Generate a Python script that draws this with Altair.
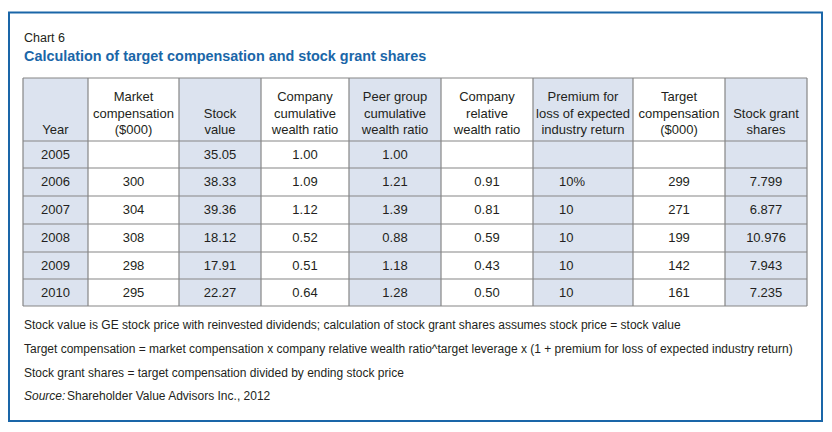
import altair as alt
import pandas as pd

# ---------------- data ----------------
chart_label = "Chart 6"
title_text = "Calculation of target compensation and stock grant shares"

headers = [
    ["Year"],
    ["Market", "compensation", "($000)"],
    ["Stock", "value"],
    ["Company", "cumulative", "wealth ratio"],
    ["Peer group", "cumulative", "wealth ratio"],
    ["Company", "relative", "wealth ratio"],
    ["Premium for", "loss of expected", "industry return"],
    ["Target", "compensation", "($000)"],
    ["Stock grant", "shares"],
]

years = ["2005", "2006", "2007", "2008", "2009", "2010"]
market_comp = ["", "300", "304", "308", "298", "295"]
stock_value = ["35.05", "38.33", "39.36", "18.12", "17.91", "22.27"]
company_cum = ["1.00", "1.09", "1.12", "0.52", "0.51", "0.64"]
peer_cum = ["1.00", "1.21", "1.39", "0.88", "1.18", "1.28"]
company_rel = ["", "0.91", "0.81", "0.59", "0.43", "0.50"]
premium = ["", "10%", "10", "10", "10", "10"]
target_comp = ["", "299", "271", "199", "142", "161"]
grant_shares = ["", "7.799", "6.877", "10.976", "7.943", "7.235"]

notes = [
    "Stock value is GE stock price with reinvested dividends; calculation of stock grant shares assumes stock price = stock value",
    "Target compensation = market compensation x company relative wealth ratio^target leverage x (1 + premium for loss of expected industry return)",
    "Stock grant shares = target compensation divided by ending stock price",
]
source_label = "Source:"
source_text = "Shareholder Value Advisors Inc., 2012"

# ---------------- layout (page pixel space) ----------------
col_edges = [23, 88, 179, 261, 349, 441, 533, 633, 725, 807]
row_edges = [78, 141, 168, 196, 224, 252, 279, 306]
header_line_y = [97, 113.5, 130]
box = dict(x=9, y=12.5, x2=822, y2=421)
note_y = [325, 349, 373]
source_y = 396
text_left = 24

SHADE = "#dce3ef"
GRID = "#858585"
BLUE = "#1a66a8"
TEXT = "#231f20"
FONT = "Liberation Sans"

X = alt.Scale(domain=[8, 824], range=[0, 816])
Y = alt.Scale(domain=[8, 424], range=[0, 416])


def qx(f):
    return alt.X(f, type="quantitative", scale=X, axis=None)


def qy(f):
    return alt.Y(f, type="quantitative", scale=Y, axis=None)


columns = [years, market_comp, stock_value, company_cum, peer_cum,
           company_rel, premium, target_comp, grant_shares]

# column shading
shade_df = pd.DataFrame([
    dict(x=col_edges[i], x2=col_edges[i + 1], y=row_edges[0], y2=row_edges[-1],
         fill=SHADE if i % 2 == 0 else "#ffffff")
    for i in range(len(columns))
])
shade = alt.Chart(shade_df).mark_rect().encode(
    x=qx("x"), x2="x2", y=qy("y"), y2="y2",
    color=alt.Color("fill:N", scale=None))

vlines = pd.DataFrame([dict(x=e, y=row_edges[0], y2=row_edges[-1]) for e in col_edges])
hlines = pd.DataFrame([dict(y=e, x=col_edges[0], x2=col_edges[-1]) for e in row_edges])
vrule = alt.Chart(vlines).mark_rule(color=GRID, strokeWidth=1.2).encode(
    x=qx("x"), y=qy("y"), y2="y2")
hrule = alt.Chart(hlines).mark_rule(color=GRID, strokeWidth=1.2).encode(
    y=qy("y"), x=qx("x"), x2="x2")

border = alt.Chart(pd.DataFrame([box])).mark_rect(
    fill=None, stroke=BLUE, strokeWidth=2).encode(
    x=qx("x"), x2="x2", y=qy("y"), y2="y2")

# header text
hrows = []
for i, lines in enumerate(headers):
    cx = (col_edges[i] + col_edges[i + 1]) / 2
    start = len(header_line_y) - len(lines)
    for j, t in enumerate(lines):
        hrows.append(dict(x=cx, y=header_line_y[start + j], t=t))
htext = alt.Chart(pd.DataFrame(hrows)).mark_text(
    font=FONT, fontSize=13, color=TEXT, align="center", baseline="middle").encode(
    x=qx("x"), y=qy("y"), text="t:N")

# body text
brows, lrows = [], []
for i, col in enumerate(columns):
    cx = (col_edges[i] + col_edges[i + 1]) / 2
    for r, t in enumerate(col):
        cy = (row_edges[r + 1] + row_edges[r + 2]) / 2
        if columns[i] is premium:
            lrows.append(dict(x=col_edges[i], y=cy, t=t))
        else:
            brows.append(dict(x=cx, y=cy, t=t))
btext = alt.Chart(pd.DataFrame(brows)).mark_text(
    font=FONT, fontSize=13, color=TEXT, align="center", baseline="middle").encode(
    x=qx("x"), y=qy("y"), text="t:N")
ltext = alt.Chart(pd.DataFrame(lrows)).mark_text(
    font=FONT, fontSize=13, color=TEXT, align="left", baseline="middle", dx=26).encode(
    x=qx("x"), y=qy("y"), text="t:N")

# titles
t1 = alt.Chart(pd.DataFrame([dict(x=text_left, y=38, t=chart_label)])).mark_text(
    font=FONT, fontSize=12.5, color=TEXT, align="left", baseline="middle").encode(
    x=qx("x"), y=qy("y"), text="t:N")
t2 = alt.Chart(pd.DataFrame([dict(x=text_left, y=57, t=title_text)])).mark_text(
    font=FONT, fontSize=14.4, fontWeight="bold", color=BLUE, align="left",
    baseline="middle").encode(x=qx("x"), y=qy("y"), text="t:N")

# notes
ndf = pd.DataFrame([dict(x=text_left, y=y, t=t) for t, y in zip(notes, note_y)])
ntext = alt.Chart(ndf).mark_text(
    font=FONT, fontSize=12, color=TEXT, align="left", baseline="middle").encode(
    x=qx("x"), y=qy("y"), text="t:N")
s1 = alt.Chart(pd.DataFrame([dict(x=text_left, y=source_y, t=source_label)])).mark_text(
    font=FONT, fontSize=12, fontStyle="italic", color=TEXT, align="left",
    baseline="middle").encode(x=qx("x"), y=qy("y"), text="t:N")
s2 = alt.Chart(pd.DataFrame([dict(x=text_left, y=source_y, t=source_text)])).mark_text(
    font=FONT, fontSize=12, color=TEXT, align="left", baseline="middle", dx=43).encode(
    x=qx("x"), y=qy("y"), text="t:N")

chart = alt.layer(shade, vrule, hrule, border, htext, btext, ltext, t1, t2,
                  ntext, s1, s2).properties(
    width=816, height=416, padding=0,
    autosize=alt.AutoSizeParams(type="none"),
    background="#ffffff",
).configure_view(stroke=None)

chart.save("out.html", embed_options={"renderer": "svg", "actions": False})
